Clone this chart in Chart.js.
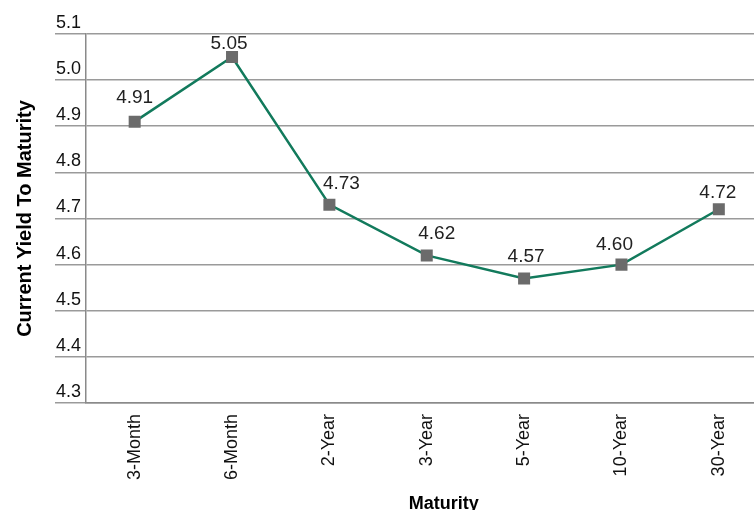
<!DOCTYPE html>
<html lang="en">
<head>
  <meta charset="UTF-8" />
  <title>Current Yield To Maturity</title>
  <script src="https://cdn.jsdelivr.net/npm/chart.js"></script>
  <style>
    html, body {
      margin: 0;
      padding: 0;
      background: #fff;
      overflow: hidden;
    }
    .chart-container {
      position: relative;
      width: 776px;
      height: 510px;
    }
  </style>
</head>
<body>
  <div class="chart-container">
    <canvas id="yieldChart"></canvas>
  </div>

  <script>
    const maturities = ['3-Month', '6-Month', '2-Year', '3-Year', '5-Year', '10-Year', '30-Year'];
    const yields = [4.91, 5.05, 4.73, 4.62, 4.57, 4.60, 4.72];
    const yTicks = [4.3, 4.4, 4.5, 4.6, 4.7, 4.8, 4.9, 5.0, 5.1];

    // value labels sit above the points, nudged a little like the original
    const labelNudgeX = [0, -3, 12, 10, 2, -7, -1];
    const labelNudgeY = [-24, -13, -21, -22, -22, -20, -17];

    const FONT = "'Liberation Sans', Arial, sans-serif";

    const valueLabels = {
      id: 'valueLabels',
      afterDatasetsDraw(chart) {
        const ctx = chart.ctx;
        const meta = chart.getDatasetMeta(0);
        ctx.save();
        ctx.font = '19px ' + FONT;
        ctx.fillStyle = '#222';
        ctx.textAlign = 'center';
        ctx.textBaseline = 'middle';
        meta.data.forEach((pt, i) => {
          ctx.fillText(yields[i].toFixed(2), pt.x + labelNudgeX[i], pt.y + labelNudgeY[i]);
        });
        ctx.restore();
      }
    };

    // x axis title, drawn a bit right of centre as in the original
    const xTitle = {
      id: 'xTitle',
      afterDraw(chart) {
        const ctx = chart.ctx;
        const a = chart.chartArea;
        ctx.save();
        ctx.font = 'bold 18px ' + FONT;
        ctx.fillStyle = '#000';
        ctx.textAlign = 'center';
        ctx.textBaseline = 'alphabetic';
        ctx.fillText('Maturity', (a.left + a.right) / 2 + 17, 509);
        ctx.restore();
      }
    };

    const ctx = document.getElementById('yieldChart').getContext('2d');
    new Chart(ctx, {
      type: 'line',
      data: {
        labels: maturities,
        datasets: [{
          data: yields,
          borderColor: '#127a5c',
          borderWidth: 2.5,
          tension: 0,
          pointStyle: 'rect',
          pointRadius: 8.5,
          pointHoverRadius: 8.5,
          pointBackgroundColor: '#6b6b6b',
          pointBorderWidth: 0
        }]
      },
      options: {
        responsive: true,
        maintainAspectRatio: false,
        animation: false,
        layout: { padding: { top: 34, right: 4, left: 0, bottom: 0 } },
        plugins: {
          legend: { display: false },
          tooltip: { enabled: false }
        },
        scales: {
          x: {
            offset: true,
            grid: { display: false },
            border: { display: true, color: '#8a8a8a', width: 1.5 },
            ticks: {
              autoSkip: false,
              minRotation: 90,
              maxRotation: 90,
              padding: 3,
              color: '#111',
              font: { family: FONT, size: 18 }
            },
            afterFit(scale) { scale.height = 107; }
          },
          y: {
            min: 4.3,
            max: 5.1,
            afterBuildTicks(scale) {
              scale.ticks = yTicks.map(v => ({ value: v }));
            },
            grid: {
              color: '#9a9a9a',
              lineWidth: 1.5,
              tickLength: 31
            },
            border: { display: true, color: '#8a8a8a', width: 1.5 },
            ticks: {
              padding: -26,
              labelOffset: -11,
              color: '#111',
              font: { family: FONT, size: 18 },
              callback: v => v.toFixed(1)
            },
            title: {
              display: true,
              text: 'Current Yield To Maturity',
              color: '#000',
              padding: { top: 13, bottom: 0 },
              font: { family: FONT, size: 20, weight: 'bold' }
            },
            afterFit(scale) { scale.width = 86; }
          }
        }
      },
      plugins: [valueLabels, xTitle]
    });
  </script>
</body>
</html>
